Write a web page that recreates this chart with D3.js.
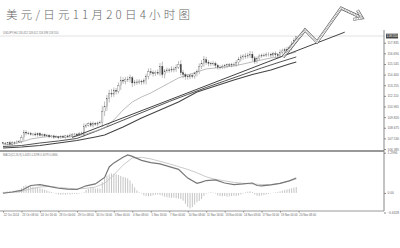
<!DOCTYPE html>
<html>
<head>
<meta charset="utf-8">
<script src="https://cdn.jsdelivr.net/npm/d3@7"></script>
<style>
  body { margin: 0; background: #fff; }
  svg { display: block; font-family: "Liberation Sans", Arial, sans-serif; }
</style>
</head>
<body>
<div id="chart"></div>
<script>
// USDJPY H4 bars, 22 Oct 2014 -> 20 Nov 2014
const firstOpen = 107.05;
const closes = [
  107.00,106.95,107.05,106.90,107.10,107.05,107.15,107.20,
  107.60,108.20,108.10,108.05,107.95,108.00,107.90,108.05,
  107.85,107.95,107.80,107.85,107.70,107.80,107.65,107.70,
  107.60,107.75,107.65,107.80,107.70,107.85,107.95,108.00,
  107.90,108.05,108.10,108.85,108.95,109.10,108.95,109.15,
  109.05,109.20,109.25,110.40,111.00,111.80,112.40,112.30,
  112.70,112.60,113.20,113.80,113.70,113.90,113.85,114.05,
  113.50,113.60,113.55,113.70,113.60,113.75,114.20,114.70,
  114.60,114.50,114.65,114.55,115.30,114.40,114.80,114.90,
  114.85,115.00,114.95,115.20,115.50,114.60,114.40,114.20,
  114.15,114.30,114.20,114.50,114.70,115.30,115.60,116.00,
  115.70,115.60,115.55,115.60,115.40,115.20,115.15,115.25,
  115.35,115.45,115.40,115.50,115.45,115.70,116.00,116.30,
  116.40,116.35,116.50,116.60,116.20,115.80,116.10,116.40,
  116.50,116.45,116.55,116.60,116.50,116.65,116.55,116.45,
  116.80,116.95,117.10,117.00,117.30,117.70,118.10,118.55
];
const upperWick = [
  .10,.15,.08,.20,.12,.10,.18,.15,.30,.25,.20,.15,.18,.12,.20,.10,
  .15,.12,.10,.18,.14,.10,.12,.16,.10,.12,.15,.10,.12,.20,.15,.12,
  .10,.18,.15,.30,.20,.15,.25,.18,.12,.15,.20,.60,.50,.40,.35,.45,
  .30,.25,.35,.40,.30,.25,.30,.35,.20,.25,.30,.20,.15,.25,.30,.35,
  .40,.25,.20,.30,.35,.50,.20,.25,.20,.30,.25,.30,.35,.45,.30,.20,
  .25,.20,.15,.20,.25,.30,.35,.40,.30,.25,.20,.25,.20,.15,.20,.25,
  .20,.15,.20,.15,.20,.25,.30,.25,.20,.30,.25,.35,.30,.20,.25,.20,
  .15,.20,.25,.20,.15,.20,.25,.20,.30,.25,.20,.30,.25,.30,.25,.20
];
const lowerWick = [
  .12,.10,.15,.10,.12,.18,.10,.12,.20,.30,.25,.15,.12,.18,.15,.20,
  .10,.15,.12,.10,.15,.12,.18,.10,.15,.12,.10,.15,.12,.10,.18,.12,
  .15,.10,.12,.40,.20,.15,.20,.25,.15,.20,.15,.50,.45,.50,.40,.35,
  .30,.35,.25,.45,.30,.35,.25,.30,.45,.30,.25,.20,.30,.25,.40,.30,
  .25,.30,.25,.20,.30,.35,.40,.20,.25,.20,.30,.25,.20,.30,.40,.35,
  .30,.25,.20,.25,.30,.25,.30,.35,.25,.30,.25,.20,.30,.25,.20,.15,
  .20,.25,.15,.20,.15,.20,.25,.20,.30,.25,.20,.30,.35,.25,.20,.15,
  .20,.15,.15,.20,.25,.20,.30,.35,.20,.25,.20,.25,.20,.30,.25,.20
];

// moving averages, sampled at bar index
const maFastBars = [0,4,8,12,16,20,24,28,32,36,40,44,48,52,56,60,64,68,72,76,80,84,88,92,96,100,104,108,112,116,120,124,127];
const maFast = [106.82,106.92,107.14,107.46,107.62,107.73,107.68,107.68,107.79,108.00,108.32,108.65,109.51,110.59,111.45,111.99,
                112.42,112.96,113.50,114.04,114.36,114.68,115.01,115.11,115.22,115.33,115.54,115.76,115.98,116.19,116.30,116.62,116.84];
const maMidBars = [0,8,16,24,32,40,48,56,64,72,80,88,96,104,112,120,127];
const maMid = [106.65,106.76,107.03,107.25,107.52,108.27,109.08,109.89,110.70,111.50,112.26,113.01,113.71,114.41,115.11,115.76,116.30];
const maSlowBars = [0,8,16,24,32,40,44,52,60,68,76,84,92,100,108,116,124,127];
const maSlow = [106.49,106.60,106.76,107.03,107.30,107.68,107.89,108.76,109.73,110.59,111.45,112.53,113.17,113.82,114.41,114.90,115.54,115.76];

// support trendline [bar, price]
const trendLine = [[30, 107.63], [148, 118.97]];
// hand-drawn forecast arrow [bar, price]
const arrowPath = [[121.3, 116.29], [130.8, 119.20], [136.0, 117.91], [146.4, 121.57], [155.5, 120.50]];

// MACD(12,26,9)
const macdBars = [0,4,8,12,16,20,24,28,32,36,40,44,46,48,52,54,56,60,64,68,72,76,80,84,86,88,92,96,100,104,108,110,112,116,120,124,127];
const macdMain = [-0.01,0.03,0.08,0.24,0.27,0.21,0.15,0.12,0.11,0.23,0.29,0.50,0.84,0.97,1.15,1.23,1.18,1.05,0.98,0.94,0.85,0.76,0.48,0.31,0.35,0.40,0.42,0.32,0.27,0.29,0.32,0.24,0.23,0.26,0.31,0.39,0.48];
const signalBars = [0,4,8,12,16,20,24,28,32,36,40,44,48,52,56,60,64,68,72,76,80,84,88,92,96,100,104,108,112,116,120,124,127];
const macdSignal = [0.00,0.02,0.05,0.13,0.19,0.21,0.18,0.15,0.13,0.15,0.19,0.31,0.58,0.90,1.13,1.15,1.10,1.02,0.94,0.85,0.76,0.65,0.52,0.44,0.39,0.34,0.31,0.29,0.27,0.27,0.31,0.39,0.45];
const macdHist = [
  0.03,0.04,0.05,0.06,0.05,0.07,0.08,0.10,
  0.16,0.22,0.24,0.23,0.22,0.20,0.18,0.17,0.15,
  0.13,0.10,0.08,0.05,0.03,0.01,
  -0.03,-0.05,-0.06,-0.05,-0.06,-0.04,-0.05,-0.04,-0.03,-0.04,-0.02,-0.01,0.02,
  0.10,0.13,0.15,0.16,0.14,0.15,0.14,
  0.35,0.48,0.56,0.60,0.63,0.62,0.60,0.58,0.55,0.52,0.50,0.47,0.40,0.30,
  0.18,0.08,0.02,-0.02,
  -0.08,-0.10,-0.11,-0.10,-0.08,
  -0.06,-0.05,-0.07,-0.09,
  -0.12,-0.14,-0.15,-0.16,-0.15,-0.17,-0.18,-0.20,-0.25,
  -0.35,-0.45,-0.50,-0.46,-0.38,
  -0.30,-0.26,-0.20,-0.10,-0.02,
  0.01,0.02,0.01,-0.02,
  -0.08,-0.10,-0.11,-0.10,-0.12,-0.11,-0.10,-0.09,-0.10,-0.08,-0.05,
  -0.02,0.02,0.04,0.05,0.03,
  -0.05,-0.09,-0.10,-0.08,-0.07,-0.05,-0.03,
  -0.01,0.01,0.02,0.03,
  0.05,0.07,0.09,0.11,0.13,0.15,0.17,0.19
];

// axis ticks
const priceTicks = [117.835,116.690,115.545,114.400,113.255,112.110,110.965,109.820,108.675,107.530,106.385];
const macdTicks = [1.2996, 0.00, -0.6328];
const timeTickBars = [0,8,16,24,32,40,48,56,64,72,80,88,96,104,112,120,128];
const timeLabels = ["22 Oct 2014","23 Oct 08:00","24 Oct 16:00","28 Oct 00:00","29 Oct 08:00","30 Oct 16:00",
  "3 Nov 00:00","4 Nov 08:00","5 Nov 16:00","7 Nov 00:00","10 Nov 08:00","11 Nov 16:00","13 Nov 00:00",
  "14 Nov 08:00","17 Nov 16:00","19 Nov 00:00","20 Nov 08:00"];

const title = "美元/日元11月20日4小时图";
const priceHeader = "USDJPY,H4  118.452 118.612 118.398 118.550";
const macdHeader = "MACD(12,26,9) 0.4431 0.3298 0.3079 0.0866";

const width = 400, height = 248;
const axisX = 384;
const mainTop = 36, mainBottom = 150.5;
const subTop = 151.5, subBottom = 211;

const svg = d3.select("#chart").append("svg")
    .attr("width", width)
    .attr("height", height);

const x = d3.scaleLinear().domain([0, 165]).range([3, axisX]);
const y = d3.scaleLinear().domain([106.385, 117.835]).range([149, 42.7]);
const ym = d3.scaleLinear().domain([-0.6328, 1.2996]).range([212.5, 152.7]);

svg.append("defs").append("clipPath").attr("id", "mainClip")
  .append("rect").attr("x", 0).attr("y", mainTop).attr("width", axisX).attr("height", mainBottom - mainTop);
svg.select("defs").append("clipPath").attr("id", "subClip")
  .append("rect").attr("x", 0).attr("y", subTop).attr("width", axisX).attr("height", subBottom - subTop);

// title
svg.append("text")
    .attr("x", 6).attr("y", 18.5)
    .attr("textLength", 184).attr("lengthAdjust", "spacing")
    .style("font-family", "'Noto Sans CJK SC', sans-serif")
    .style("font-weight", 300)
    .style("font-size", "11.5px")
    .style("fill", "#666")
    .text(title);

// frame lines
svg.append("line").attr("x1", 0).attr("x2", axisX).attr("y1", mainTop).attr("y2", mainTop)
    .attr("stroke", "#e2e2e2").attr("stroke-width", 1);
svg.append("line").attr("x1", 0).attr("x2", axisX).attr("y1", 151).attr("y2", 151)
    .attr("stroke", "#777").attr("stroke-width", 1.6);
svg.append("line").attr("x1", 0).attr("x2", axisX).attr("y1", subBottom).attr("y2", subBottom)
    .attr("stroke", "#999").attr("stroke-width", 1);

svg.append("text").attr("x", 3).attr("y", 33.5).style("font-size", "2.7px").style("fill", "#777").text(priceHeader);
svg.append("text").attr("x", 3).attr("y", 155.5).style("font-size", "2.7px").style("fill", "#777").text(macdHeader);

// price panel
const main = svg.append("g").attr("clip-path", "url(#mainClip)");

const bars = closes.map((c, i) => {
  const o = i === 0 ? firstOpen : closes[i - 1];
  return { i, o, c, h: Math.max(o, c) + upperWick[i], l: Math.min(o, c) - lowerWick[i] };
});

const lineGen = (xs, vs, scale) => d3.line().x((d, k) => x(xs[k])).y(d => scale(d))(vs);

main.append("path").attr("d", lineGen(maSlowBars, maSlow, y))
    .attr("fill", "none").attr("stroke", "#444").attr("stroke-width", 1.1);
main.append("path").attr("d", lineGen(maMidBars, maMid, y))
    .attr("fill", "none").attr("stroke", "#555").attr("stroke-width", 1);
main.append("path").attr("d", lineGen(maFastBars, maFast, y))
    .attr("fill", "none").attr("stroke", "#aaa").attr("stroke-width", 0.8);

const candle = main.append("g").selectAll("g").data(bars).join("g");
candle.append("line")
    .attr("x1", d => x(d.i)).attr("x2", d => x(d.i))
    .attr("y1", d => y(d.h)).attr("y2", d => y(d.l))
    .attr("stroke", "#555").attr("stroke-width", 0.4);
candle.append("rect")
    .attr("x", d => x(d.i) - 0.65).attr("width", 1.3)
    .attr("y", d => y(Math.max(d.o, d.c)))
    .attr("height", d => Math.max(0.4, Math.abs(y(d.o) - y(d.c))))
    .attr("fill", d => d.c >= d.o ? "#fff" : "#333")
    .attr("stroke", "#555").attr("stroke-width", 0.3);

// trendline runs past the last bar
svg.append("path")
    .attr("d", d3.line().x(d => x(d[0])).y(d => y(d[1]))(trendLine))
    .attr("fill", "none").attr("stroke", "#444").attr("stroke-width", 1);

// right price axis
const pAxis = svg.append("g").attr("transform", `translate(${axisX},0)`)
    .call(d3.axisRight(y).tickValues(priceTicks).tickSize(2).tickPadding(1.5).tickFormat(d3.format(".3f")));
pAxis.select(".domain").remove();
pAxis.selectAll("text").style("font-size", "3.2px").style("fill", "#666");
pAxis.selectAll("line").attr("stroke", "#888");

svg.append("line").attr("x1", axisX).attr("x2", axisX).attr("y1", 30).attr("y2", subBottom)
    .attr("stroke", "#888").attr("stroke-width", 1);

// last price tag
const lastClose = closes[closes.length - 1];
svg.append("rect").attr("x", axisX + 2).attr("y", y(lastClose) - 2.4).attr("width", 12).attr("height", 4.8).attr("fill", "#444");
svg.append("text").attr("x", axisX + 2.6).attr("y", y(lastClose) + 1.2)
    .style("font-size", "3.2px").style("fill", "#fff").text(d3.format(".3f")(lastClose));

// MACD panel
const sub = svg.append("g").attr("clip-path", "url(#subClip)");
sub.append("g").selectAll("line").data(macdHist).join("line")
    .attr("x1", (d, i) => x(i)).attr("x2", (d, i) => x(i))
    .attr("y1", ym(0)).attr("y2", d => ym(d))
    .attr("stroke", "#aaa").attr("stroke-width", 0.7);
sub.append("path").attr("d", lineGen(signalBars, macdSignal, ym))
    .attr("fill", "none").attr("stroke", "#c4c4c4").attr("stroke-width", 0.9);
sub.append("path").attr("d", lineGen(macdBars, macdMain, ym))
    .attr("fill", "none").attr("stroke", "#777").attr("stroke-width", 1.2);

const mAxis = svg.append("g").attr("transform", `translate(${axisX},0)`)
    .call(d3.axisRight(ym).tickValues(macdTicks).tickSize(2).tickPadding(1.5)
      .tickFormat(d => d === 0 ? "0.00" : d3.format(".4f")(d)));
mAxis.select(".domain").remove();
mAxis.selectAll("text").style("font-size", "3.2px").style("fill", "#666");
mAxis.selectAll("line").attr("stroke", "#888");

// time axis
const tAxis = svg.append("g").attr("transform", `translate(0,${subBottom})`)
    .call(d3.axisBottom(x).tickValues(timeTickBars).tickSize(1.5).tickPadding(2)
      .tickFormat((d, i) => timeLabels[i]));
tAxis.select(".domain").remove();
tAxis.selectAll("text").attr("text-anchor", "start").attr("dx", "0.3px")
    .style("font-size", "2.8px").style("fill", "#666");
tAxis.selectAll("line").attr("stroke", "#888");

// hand-drawn zigzag forecast arrow
const pts = arrowPath.map(d => [x(d[0]), y(d[1])]);
const n = pts.length;
const tip = pts[n - 1], prev = pts[n - 2];
const ang = Math.atan2(tip[1] - prev[1], tip[0] - prev[0]);
const headLen = 9;
const wingA = [tip[0] - headLen * Math.cos(ang - 0.6), tip[1] - headLen * Math.sin(ang - 0.6)];
const wingB = [tip[0] - headLen * Math.cos(ang + 0.6), tip[1] - headLen * Math.sin(ang + 0.6)];
const shapes = [pts, [wingA, tip, wingB]];
const arrow = svg.append("g");
shapes.forEach(s => {
  const d = d3.line()(s);
  arrow.append("path").attr("d", d).attr("fill", "none").attr("stroke", "#555")
      .attr("stroke-width", 3).attr("stroke-linejoin", "miter");
  arrow.append("path").attr("d", d).attr("fill", "none").attr("stroke", "#fff")
      .attr("stroke-width", 1.8).attr("stroke-linejoin", "miter");
  arrow.append("path").attr("d", d).attr("fill", "none").attr("stroke", "#999")
      .attr("stroke-width", 1.8).attr("stroke-dasharray", "0.6,1.1");
});
</script>
</body>
</html>
